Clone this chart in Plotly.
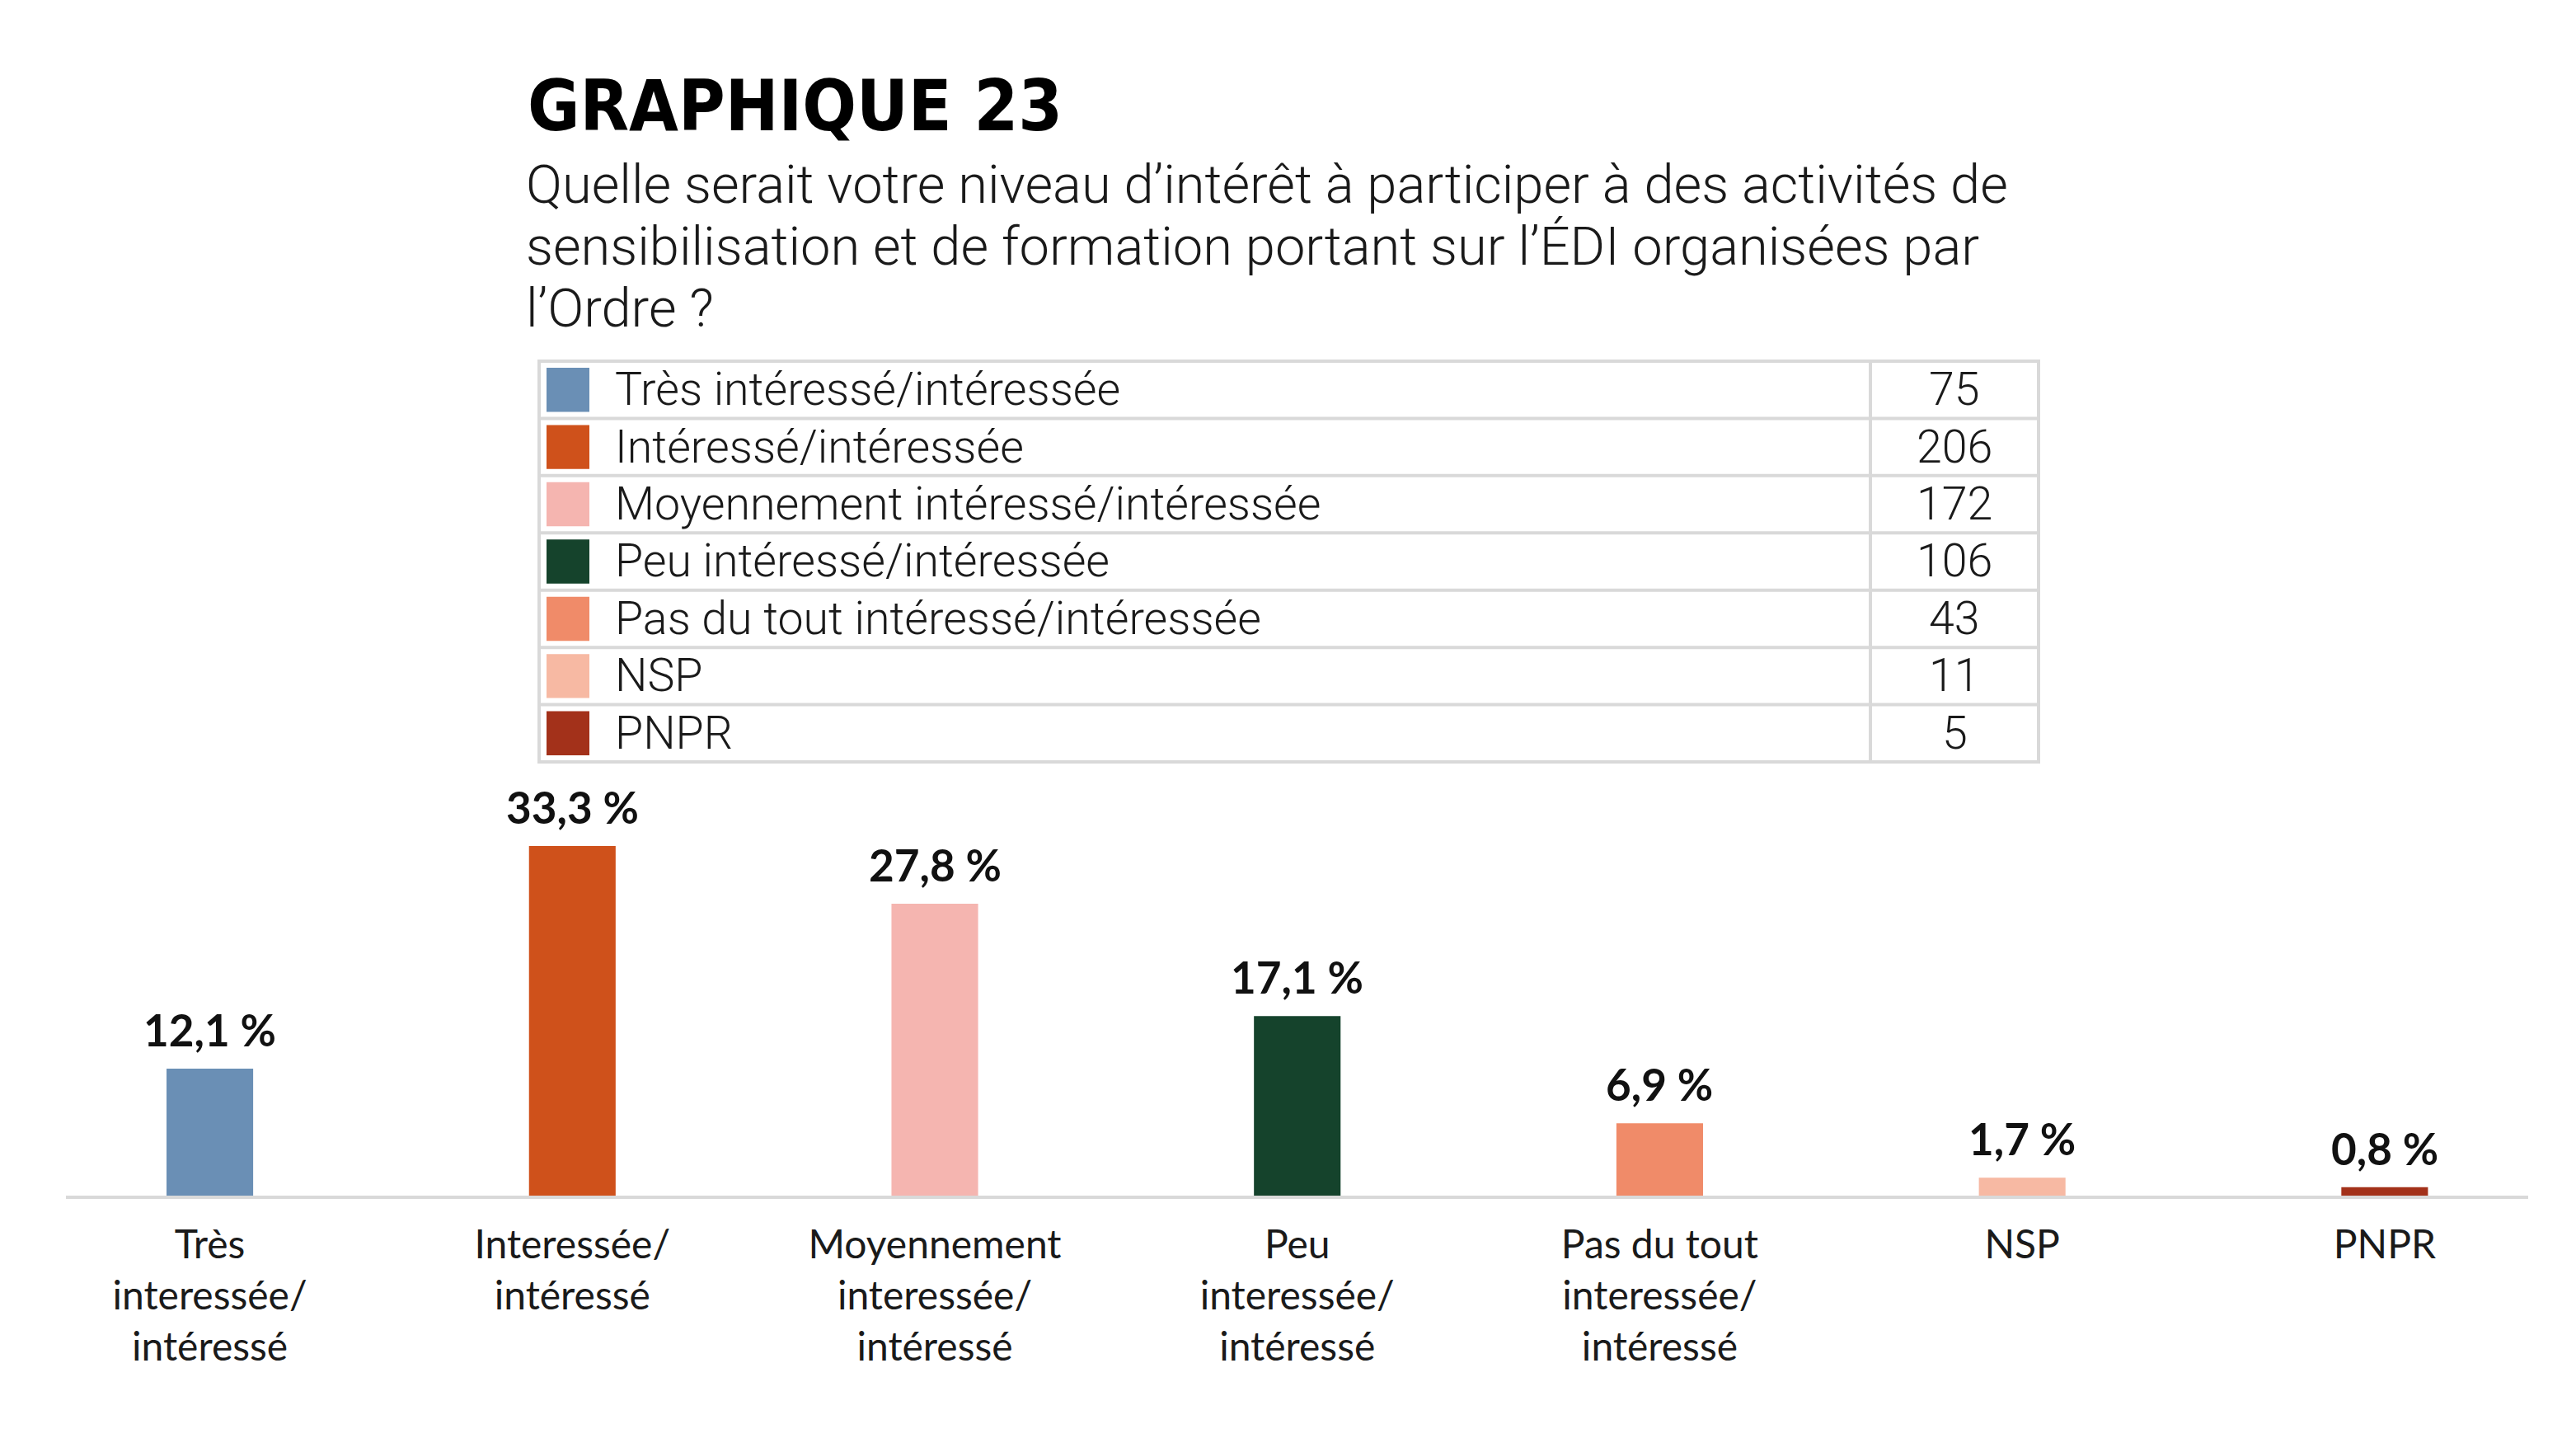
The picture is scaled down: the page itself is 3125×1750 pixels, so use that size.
import plotly.graph_objects as go

W, H = 3125, 1750

# ---- data ----
categories = [
    "Très<br>interessée/<br>intéressé",
    "Interessée/<br>intéressé",
    "Moyennement<br>interessée/<br>intéressé",
    "Peu<br>interessée/<br>intéressé",
    "Pas du tout<br>interessée/<br>intéressé",
    "NSP",
    "PNPR",
]
percentages = [12.1, 33.3, 27.8, 17.1, 6.9, 1.7, 0.8]
legend_labels = [
    "Très intéressé/intéressée",
    "Intéressé/intéressée",
    "Moyennement intéressé/intéressée",
    "Peu intéressé/intéressée",
    "Pas du tout intéressé/intéressée",
    "NSP",
    "PNPR",
]
counts = [75, 206, 172, 106, 43, 11, 5]
colors = ["#6A8FB5", "#CF511B", "#F5B5B0", "#15432C", "#F08B69", "#F7B9A3", "#A3311A"]

title_text = "GRAPHIQUE 23"
subtitle_lines = [
    "Quelle serait votre niveau d’intérêt à participer à des activités de",
    "sensibilisation et de formation portant sur l’ÉDI organisées par",
    "l’Ordre ?",
]

TEXT_FONT = "Roboto"
AXIS_FONT = "Lato"
TITLE_FONT = "DejaVu Sans Condensed, DejaVu Sans, sans-serif"
GRID = "#D9D9D9"


def px(x):
    return x / W


def py(y):
    return 1 - y / H


idx = list(range(len(categories)))

fig = go.Figure()
fig.add_trace(go.Bar(
    x=idx, y=percentages, width=0.239,
    marker=dict(color=colors, line=dict(width=0)),
    hoverinfo="skip", showlegend=False,
))

annotations = []
# value labels above bars
for i, v in zip(idx, percentages):
    annotations.append(dict(
        x=i, y=v, xref="x", yref="y", text=f"{v:.1f}".replace(".", ",") + " %",
        showarrow=False, yanchor="bottom", xanchor="center", yshift=14,
        font=dict(family=AXIS_FONT, size=53, color="#111111", weight="bold"),
    ))

# title + subtitle
annotations.append(dict(
    x=px(638), y=py(76), xref="paper", yref="paper", text="<b>" + title_text + "</b>",
    showarrow=False, xanchor="left", yanchor="top",
    font=dict(family=TITLE_FONT, size=86, color="#000000"),
))
for k, line in enumerate(subtitle_lines):
    annotations.append(dict(
        x=px(636), y=py(224 + 75 * k), xref="paper", yref="paper", text=line,
        showarrow=False, xanchor="left", yanchor="middle",
        font=dict(family=TEXT_FONT, size=65, color="#1a1a1a", weight=300),
    ))

shapes = []
# table
T_left, T_right, T_top, T_bot, T_div = 654, 2473, 438, 924, 2269
row_h = (T_bot - T_top) / len(legend_labels)
shapes.append(dict(type="rect", xref="paper", yref="paper",
                   x0=px(T_left), x1=px(T_right), y0=py(T_top), y1=py(T_bot),
                   line=dict(color=GRID, width=4)))
shapes.append(dict(type="line", xref="paper", yref="paper",
                   x0=px(T_div), x1=px(T_div), y0=py(T_top), y1=py(T_bot),
                   line=dict(color=GRID, width=4)))
for r, (lab, cnt, col) in enumerate(zip(legend_labels, counts, colors)):
    top = T_top + r * row_h
    if r > 0:
        shapes.append(dict(type="line", xref="paper", yref="paper",
                           x0=px(T_left), x1=px(T_right), y0=py(top), y1=py(top),
                           line=dict(color=GRID, width=4)))
    shapes.append(dict(type="rect", xref="paper", yref="paper",
                       x0=px(663), x1=px(715), y0=py(top + 8), y1=py(top + row_h - 8),
                       fillcolor=col, line=dict(width=0)))
    cy = top + row_h / 2
    annotations.append(dict(
        x=px(744), y=py(cy), xref="paper", yref="paper", text=lab,
        showarrow=False, xanchor="left", yanchor="middle",
        font=dict(family=TEXT_FONT, size=55.5, color="#1a1a1a", weight=300),
    ))
    annotations.append(dict(
        x=px((T_div + T_right) / 2), y=py(cy), xref="paper", yref="paper", text=str(cnt),
        showarrow=False, xanchor="center", yanchor="middle",
        font=dict(family=TEXT_FONT, size=55.5, color="#1a1a1a", weight=300),
    ))

fig.update_layout(
    width=W, height=H,
    margin=dict(l=0, r=0, t=0, b=0),
    paper_bgcolor="white", plot_bgcolor="white",
    annotations=annotations, shapes=shapes,
    xaxis=dict(
        domain=[px(80), px(3067)], range=[-0.397, 6.396],
        tickvals=idx, ticktext=categories, ticks="",
        showgrid=False, zeroline=False,
        showline=True, linecolor=GRID, linewidth=4,
        tickfont=dict(family=AXIS_FONT, size=48, color="#1a1a1a"),
        ticklabelstandoff=14,
    ),
    yaxis=dict(
        domain=[py(1450), py(950)], range=[0, 500 / 12.73],
        visible=False, showgrid=False, zeroline=False,
    ),
    font=dict(family=TEXT_FONT),
)

fig.write_html("out.html", config={"displayModeBar": False},
               post_script="document.body.style.margin='0';")
